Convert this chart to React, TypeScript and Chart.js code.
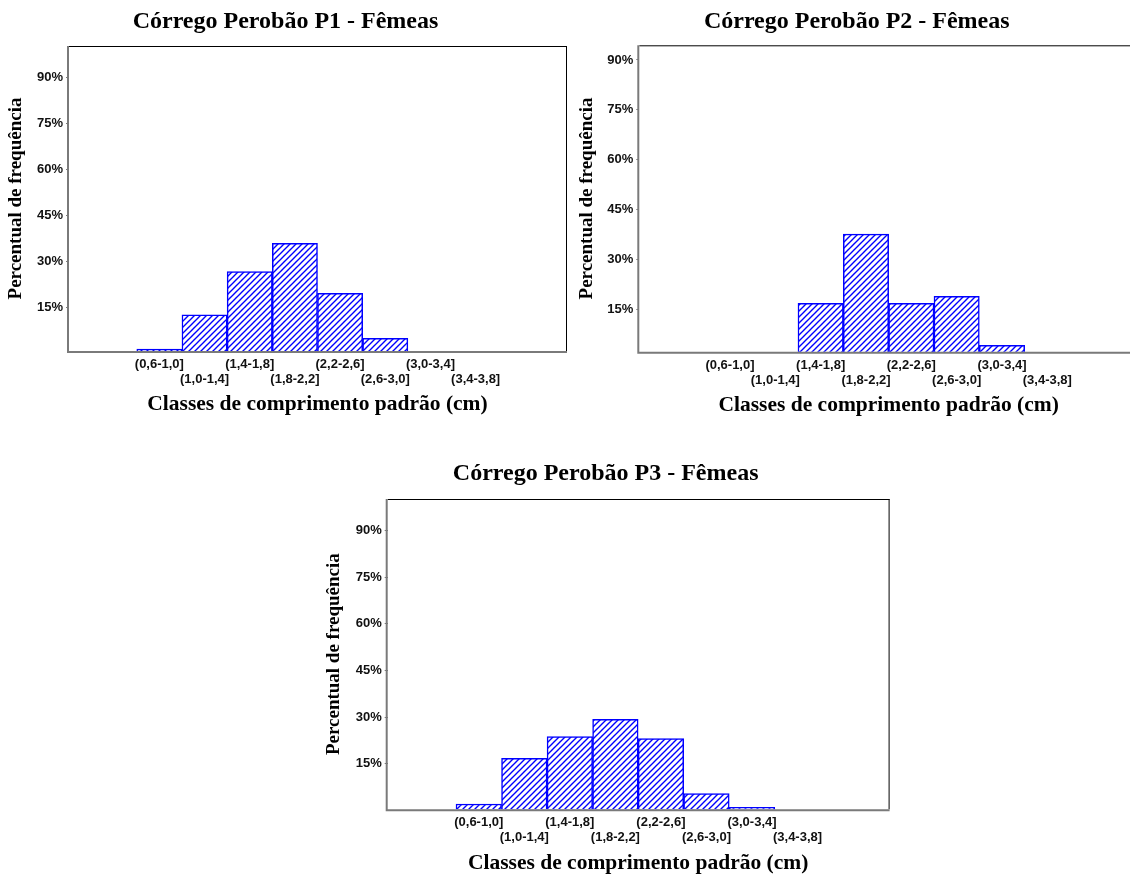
import React, { useEffect, useRef } from 'react';
import { Chart, registerables } from 'chart.js';

Chart.register(...registerables);

// ---- data ----
const classLabels = ['(0,6-1,0]', '(1,0-1,4]', '(1,4-1,8]', '(1,8-2,2]', '(2,2-2,6]', '(2,6-3,0]', '(3,0-3,4]', '(3,4-3,8]'];
const classMidpoints = [0.8, 1.2, 1.6, 2.0, 2.4, 2.8, 3.2, 3.6];
const p1Values = [1.4, 12.6, 26.7, 35.9, 19.6, 4.9, 0, 0];
const p2Values = [0, 0, 16.9, 37.7, 16.9, 19.0, 4.3, 0];
const p3Values = [2.0, 16.7, 23.7, 29.3, 23.1, 5.4, 0.9, 0];
const yTickValues = [15, 30, 45, 60, 75, 90];
const xAxisTitle = 'Classes de comprimento padrão (cm)';
const yAxisTitle = 'Percentual de frequência';

type Spec = {
  title: string; values: number[]; left: number; top: number; w: number; h: number;
  padL: number; padR: number; padB: number; tT: number; tB: number; yW: number; yMin: number; yMax: number;
};

const specs: Spec[] = [
  { title: 'Córrego Perobão P1 - Fêmeas', values: p1Values, left: 0, top: 0, w: 574, h: 421, padL: 5, padR: 8, padB: 5.5, tT: 7.6, tB: 9.6, yW: 64, yMin: 0.8, yMax: 100.3 },
  { title: 'Córrego Perobão P2 - Fêmeas', values: p2Values, left: 570, top: 0, w: 576, h: 422, padL: 5.5, padR: 8, padB: 5.8, tT: 7.3, tB: 9.2, yW: 63.8, yMin: 2.4, yMax: 94.4 },
  { title: 'Córrego Perobão P3 - Fêmeas', values: p3Values, left: 318, top: 450, w: 578, h: 424, padL: 4.7, padR: 7.4, padB: 0.2, tT: 9.6, tB: 10.6, yW: 65, yMin: 0.3, yMax: 100.2 },
];

const framePlugin = {
  id: 'frame',
  afterDatasetsDraw(chart: any) {
    const { ctx, chartArea } = chart;
    const { left, right, top, bottom } = chartArea;
    ctx.save();
    ctx.strokeStyle = '#000';
    ctx.lineWidth = 1;
    ctx.beginPath();
    ctx.moveTo(left, top + 0.5);
    ctx.lineTo(right + 1, top + 0.5);
    ctx.moveTo(right + 0.5, top);
    ctx.lineTo(right + 0.5, bottom);
    ctx.stroke();
    ctx.strokeStyle = '#7a7a7a';
    ctx.lineWidth = 2;
    ctx.beginPath();
    ctx.moveTo(left - 1, top);
    ctx.lineTo(left - 1, bottom + 2);
    ctx.moveTo(left - 2, bottom + 1);
    ctx.lineTo(right + 1, bottom + 1);
    ctx.stroke();
    ctx.restore();
  },
};

function makePattern(): CanvasPattern | string {
  const size = 6;
  const c = document.createElement('canvas');
  c.width = size;
  c.height = size;
  const g = c.getContext('2d');
  if (!g) return '#0000ff';
  g.fillStyle = '#ffffff';
  g.fillRect(0, 0, size, size);
  g.strokeStyle = '#0000ff';
  g.lineWidth = 1.4;
  g.lineCap = 'square';
  g.beginPath();
  for (let k = -1; k <= 1; k++) {
    g.moveTo(k * size - 1, size + 1);
    g.lineTo(k * size + size + 1, -1);
  }
  g.stroke();
  const p = g.createPattern(c, 'repeat');
  return p || '#0000ff';
}

const tickFont = { family: 'Liberation Sans', size: 13, weight: 'bold' as const, lineHeight: 1.154 };

function buildConfig(s: Spec): any {
  return {
    type: 'bar',
    data: {
      datasets: [
        {
          data: s.values.map((v, i) => ({ x: classMidpoints[i], y: v === 0 ? null : v })),
          backgroundColor: makePattern(),
          borderColor: '#0000ff',
          borderWidth: 1.5,
          borderSkipped: false,
          barPercentage: 1,
          categoryPercentage: 1,
        },
      ],
    },
    options: {
      responsive: false,
      animation: false,
      devicePixelRatio: 1,
      layout: { padding: { left: s.padL, right: s.padR, top: 0, bottom: s.padB } },
      plugins: {
        legend: { display: false },
        tooltip: { enabled: false },
        title: {
          display: true,
          text: s.title,
          color: '#000',
          font: { family: 'Liberation Serif', size: 24, weight: 'bold', lineHeight: 1.2 },
          padding: { top: s.tT, bottom: s.tB },
        },
      },
      scales: {
        x: {
          type: 'linear',
          min: 0,
          max: 4.4,
          offset: false,
          grid: { display: false, drawTicks: false, offset: false },
          border: { display: false },
          afterBuildTicks: (sc: any) => {
            sc.ticks = classMidpoints.map((v) => ({ value: v }));
          },
          afterFit: (sc: any) => {
            sc.height = 64.5;
          },
          ticks: {
            autoSkip: false,
            maxRotation: 0,
            minRotation: 0,
            padding: 6,
            color: '#111',
            font: tickFont,
            callback: (_v: any, i: number) => (i % 2 === 0 ? [classLabels[i], ''] : ['', classLabels[i]]),
          },
          title: {
            display: true,
            text: xAxisTitle,
            color: '#000',
            font: { family: 'Liberation Serif', size: 21.5, weight: 'bold', lineHeight: 1 },
            padding: 0,
          },
        },
        y: {
          type: 'linear',
          min: s.yMin,
          max: s.yMax,
          afterBuildTicks: (sc: any) => {
            sc.ticks = yTickValues.map((v) => ({ value: v }));
          },
          afterFit: (sc: any) => {
            sc.width = s.yW;
          },
          grid: { drawOnChartArea: false, drawTicks: true, tickLength: 3, color: '#7a7a7a' },
          border: { display: false },
          ticks: {
            padding: 3,
            color: '#111',
            font: tickFont,
            callback: (v: any) => v + '%',
          },
          title: {
            display: true,
            text: yAxisTitle,
            color: '#000',
            font: { family: 'Liberation Serif', size: 19, weight: 'bold', lineHeight: 1.2 },
            padding: 0,
          },
        },
      },
    },
    plugins: [framePlugin],
  };
}

function HistChart({ spec }: { spec: Spec }) {
  const ref = useRef<HTMLCanvasElement>(null);
  useEffect(() => {
    if (!ref.current) return;
    const chart = new Chart(ref.current, buildConfig(spec));
    return () => chart.destroy();
  }, [spec]);
  return (
    <canvas
      ref={ref}
      width={spec.w}
      height={spec.h}
      style={{ position: 'absolute', left: spec.left, top: spec.top, width: spec.w, height: spec.h }}
    />
  );
}

export default function App() {
  return (
    <div style={{ position: 'fixed', left: 0, top: 0, width: 1130, height: 874, overflow: 'hidden', background: '#ffffff' }}>
      {specs.map((s) => (
        <HistChart key={s.title} spec={s} />
      ))}
    </div>
  );
}
